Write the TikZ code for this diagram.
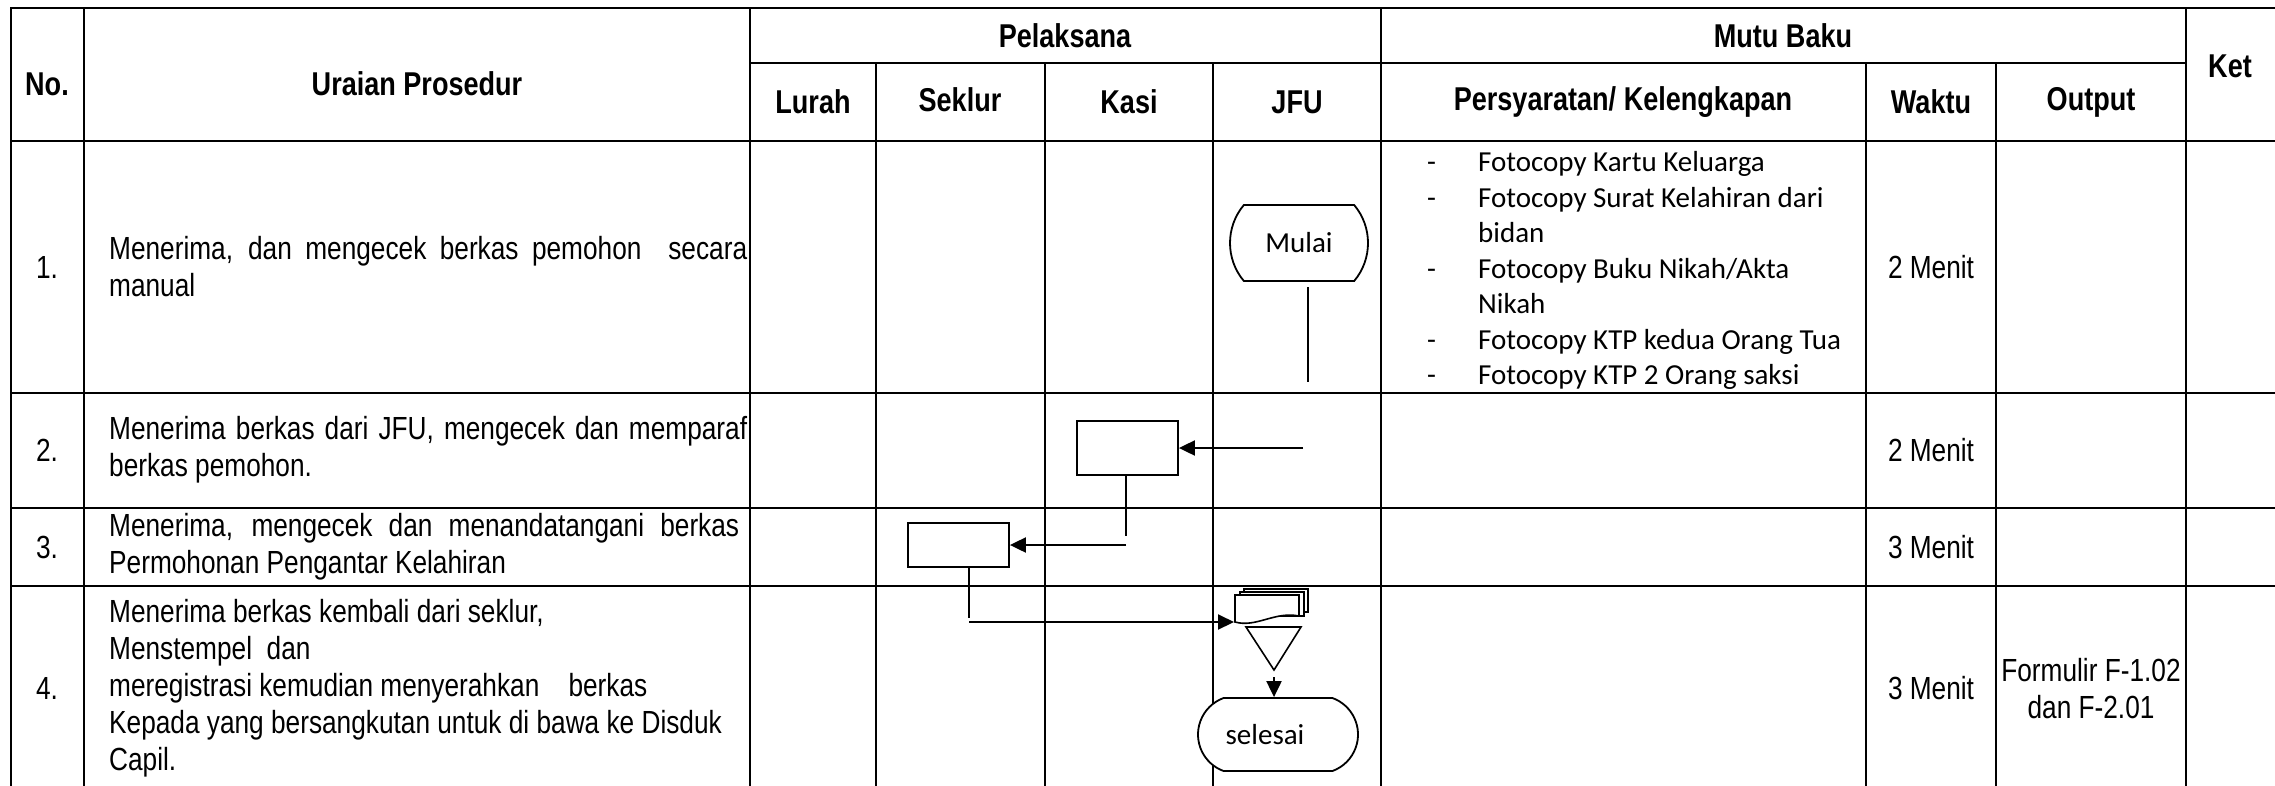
\documentclass[tikz,border=0pt]{standalone}
\usepackage{fontspec}
\setmainfont[FakeStretch=0.82]{Liberation Sans}
\newfontfamily\calfont{Carlito}
\usetikzlibrary{arrows.meta,shapes.misc}

% one justified line of the procedure column
\newcommand{\jline}[1]{\makebox[638pt][s]{#1}}

\begin{document}
\begin{tikzpicture}[x=1pt,y=-1pt,
    tbl/.style={line width=2.6pt,line cap=rect},
    hdr/.style={font=\fontsize{33}{38}\selectfont\bfseries},
    txt/.style={font=\fontsize{32}{37}\selectfont},
    cal/.style={font=\calfont\fontsize{29}{35.5}\selectfont},
    flow/.style={line width=2pt},
    arr/.style={flow,-{Triangle[length=16pt,width=15pt]}},
    procbox/.style={draw,line width=1.8pt,minimum width=101pt,inner sep=0pt},
    term/.style={rounded rectangle,draw,line width=1.8pt,fill=white,cal,inner sep=0pt}]
    \useasboundingbox (0,0) rectangle (2275,785);

    % table grid
    \draw[tbl] (11,8)--(2275,8);
    \draw[tbl] (750,63)--(2186,63);
    \foreach \y in {141,393,508,586} \draw[tbl] (11,\y)--(2275,\y);
    \foreach \x in {11,84,750,1381,2186} \draw[tbl] (\x,8)--(\x,785);
    \foreach \x in {876,1045,1213,1866,1996} \draw[tbl] (\x,63)--(\x,785);

    % header
    \node[hdr] (hno) at (47,84) {No.};
    \node[hdr] (hur) at (417,84) {Uraian Prosedur};
    \node[hdr] (hpel) at (1065,36) {Pelaksana};
    \node[hdr] (hlur) at (813,102) {Lurah};
    \node[hdr] (hsek) at (960,100) {Seklur};
    \node[hdr] (hkas) at (1129,102) {Kasi};
    \node[hdr] (hjfu) at (1297,102) {JFU};
    \node[hdr] (hmutu) at (1783,36) {Mutu Baku};
    \node[hdr] (hsya) at (1623,102) {Persyaratan/ Kelengkapan};
    \node[hdr] (hwak) at (1931,102) {Waktu};
    \node[hdr] (hout) at (2091,102) {Output};
    \node[hdr] (hket) at (2230,66) {Ket};

    % row numbers
    \node[txt] (n1) at (47,267) {1.};
    \node[txt] (n2) at (47,450) {2.};
    \node[txt] (n3) at (47,547) {3.};
    \node[txt] (n4) at (47,688) {4.};

    % procedure texts
    \node[txt,anchor=west,align=left,inner sep=0pt] (u1) at (109,267)
        {\jline{Menerima, dan mengecek berkas pemohon\ \ secara}\\manual};
    \node[txt,anchor=west,align=left,inner sep=0pt] (u2) at (109,450)
        {\jline{Menerima berkas dari JFU, mengecek dan memparaf}\\berkas pemohon.};
    \node[txt,anchor=west,align=left,inner sep=0pt] (u3) at (109,547)
        {\makebox[630pt][s]{Menerima, mengecek dan menandatangani berkas}\\Permohonan Pengantar Kelahiran};
    \node[txt,anchor=west,align=left,inner sep=0pt] (u4) at (109,688)
        {Menerima berkas kembali dari seklur,\\Menstempel\ \ dan\\meregistrasi kemudian menyerahkan\ \ \ \ berkas\\Kepada yang bersangkutan untuk di bawa ke Disduk\\Capil.};

    % requirements
    \node[cal,anchor=west,inner sep=0pt] (syarat) at (1427,271) {%
        \begin{tabular}{@{}p{51pt}@{}l@{}}
        - & Fotocopy Kartu Keluarga\\
        - & Fotocopy Surat Kelahiran dari\\
          & bidan\\
        - & Fotocopy Buku Nikah/Akta\\
          & Nikah\\
        - & Fotocopy KTP kedua Orang Tua\\
        - & Fotocopy KTP 2 Orang saksi
        \end{tabular}};

    % time and output
    \node[txt] (w1) at (1931,267) {2 Menit};
    \node[txt] (w2) at (1931,450) {2 Menit};
    \node[txt] (w3) at (1931,547) {3 Menit};
    \node[txt] (w4) at (1931,688) {3 Menit};
    \node[txt,align=center] (out4) at (2091,689) {Formulir F-1.02\\dan F-2.01};

    % flow shapes
    \node[term,minimum width=138pt,minimum height=76pt,rounded rectangle arc length=80] (mulai) at (1299,243) {Mulai};
    \node[procbox,minimum height=54pt] (kasibox) at (1127.5,448) {};
    \node[procbox,minimum height=44pt] (sekbox) at (958.5,545) {};
    \draw[line width=1.6pt,fill=white] (1244,589) rectangle (1308,612);
    \draw[line width=1.6pt,fill=white] (1240,592) rectangle (1304,616);
    \draw[line width=1.6pt,fill=white] (1235,595) -- (1299,595) -- (1299,616)
        .. controls (1275,611) and (1256,628) .. (1235,622) -- cycle;
    \draw[line width=1.6pt] (1246,627) -- (1301,627) -- (1274,670) -- cycle;
    \coordinate (trapex) at (1274,670);
    \coordinate (docin) at (1234,622);
    \node[term,minimum width=160pt,minimum height=73pt,rounded rectangle arc length=140] (selesai) at (1278,734.5) {selesai\hspace*{26pt}};

    % connectors
    \coordinate (jfuA) at (1308,287);
    \coordinate (jfuB) at (1308,382);
    \coordinate (jfuC) at (1303,448);
    \coordinate (kasiC) at (1126,536);
    \coordinate (kasiD) at (1126,545);
    \coordinate (sekC) at (969,618);
    \coordinate (sekD) at (969,622);
    \draw[flow] (jfuA) -- (jfuB);
    \draw[arr] (jfuC) -- (kasibox.east);
    \draw[flow] (kasibox.south -| kasiC) -- (kasiC);
    \draw[arr] (kasiD) -- (sekbox.east);
    \draw[flow] (sekbox.south -| sekC) -- (sekC);
    \draw[arr] (sekD) -- (docin);
    \draw[arr] ([yshift=-7pt]trapex) -- (trapex |- selesai.north);

\end{tikzpicture}
\end{document}
